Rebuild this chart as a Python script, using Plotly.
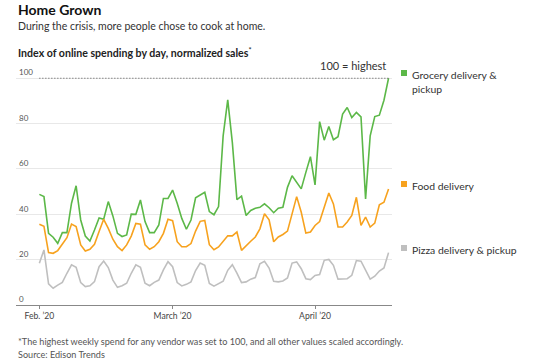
import pandas as pd
import plotly.graph_objects as go

dates = pd.date_range("2020-02-01", "2020-04-17", freq="D")

grocery = [48.8, 47.8, 31.6, 29.9, 27.2, 31.9, 31.9, 44.9, 52.6, 37.5,
           30.4, 28.2, 33.1, 38.4, 37.8, 45.6, 39.3, 31.6, 30.2, 30.9,
           40.1, 40.0, 46.3, 36.8, 31.9, 31.9, 35.3, 47.0, 47.0, 50.7,
           44.9, 38.2, 33.4, 37.5, 47.3, 48.4, 49.7, 41.2, 39.8, 43.4,
           74.6, 90.5, 71.7, 46.5, 48.0, 39.5, 41.7, 42.7, 43.1, 44.6,
           42.9, 40.7, 42.7, 43.1, 51.9, 57.0, 54.1, 51.2, 58.5, 65.4,
           53.0, 80.9, 72.7, 78.7, 72.9, 74.2, 84.2, 87.1, 82.7, 84.9,
           83.0, 46.8, 74.6, 83.1, 83.7, 90.3, 100.0]

food = [35.6, 34.7, 23.1, 22.8, 24.0, 26.9, 29.7, 35.7, 34.6, 26.5,
        23.8, 24.6, 26.8, 32.4, 37.8, 33.8, 29.0, 25.7, 24.0, 26.5,
        30.4, 36.0, 35.6, 26.5, 24.6, 25.7, 27.9, 31.6, 37.8, 37.2,
        27.9, 25.7, 25.7, 27.1, 32.6, 36.9, 37.3, 26.6, 24.4, 25.6,
        28.2, 30.5, 30.5, 32.2, 24.1, 25.9, 28.1, 30.0, 33.6, 40.2,
        37.6, 27.9, 30.0, 31.1, 32.6, 40.2, 47.8, 40.9, 31.7, 32.2,
        35.1, 36.8, 43.4, 49.4, 44.6, 34.4, 34.4, 36.6, 39.5, 47.5,
        35.1, 38.8, 34.4, 36.1, 44.2, 45.3, 51.2]

pizza = [18.4, 24.3, 9.3, 7.4, 8.8, 10.0, 14.0, 17.7, 16.6, 9.9,
         8.1, 8.5, 10.3, 16.9, 19.4, 16.5, 11.0, 7.8, 8.5, 9.6,
         14.0, 17.7, 16.6, 9.6, 8.5, 10.0, 11.0, 15.5, 19.1, 16.9,
         9.9, 8.4, 9.1, 10.2, 15.2, 18.5, 17.5, 9.5, 8.3, 9.5,
         10.5, 15.3, 17.8, 14.1, 9.9, 10.2, 11.4, 12.1, 18.2, 19.3,
         16.3, 10.5, 10.2, 10.6, 11.9, 18.5, 19.0, 16.0, 11.6, 11.2,
         13.0, 13.4, 19.7, 20.1, 17.5, 11.4, 11.4, 11.6, 13.1, 19.6,
         19.3, 15.3, 11.4, 12.7, 15.0, 16.3, 23.1]

series_names = ["Grocery delivery &<br>pickup", "Food delivery", "Pizza delivery & pickup"]
series_values = [grocery, food, pizza]
colors = ["#5cb848", "#f7a21e", "#bfbfbf"]

x_tick_vals = ["2020-02-01", "2020-03-01", "2020-04-01"]
x_tick_text = ["Feb. ’20", "March ’20", "April ’20"]
y_tick_vals = [0, 20, 40, 60, 80, 100]

W, H = 550, 363
L, R, T, B = 16, 158, 76, 58
PW, PH = W - L - R, H - T - B

def px(x):
    return (x - L) / PW

def py(y):
    return (H - B - y) / PH

fig = go.Figure()
for name, vals, col in zip(series_names, series_values, colors):
    fig.add_trace(go.Scatter(x=dates, y=vals, mode="lines", name=name,
                             line=dict(color=col, width=1.6), showlegend=False))

# dotted 100 line
fig.add_shape(type="line", xref="x", yref="y", x0=dates[0], x1=dates[-1], y0=100, y1=100,
              line=dict(color="#555555", width=1.2, dash="1px,2px"), layer="above")

font_family = "Lato, 'Noto Sans', sans-serif"
narrow = "'Liberation Sans Narrow', 'Arial Narrow', Lato, sans-serif"

fig.update_layout(
    width=W, height=H,
    margin=dict(l=L, r=R, t=T, b=B),
    plot_bgcolor="white", paper_bgcolor="white",
    font=dict(family=font_family, color="#333333"),
    xaxis=dict(
        range=["2020-01-26 22:00", "2020-04-17 18:00"],
        tickvals=x_tick_vals, ticktext=x_tick_text,
        showgrid=False, showline=True, linecolor="#888888", linewidth=1,
        ticks="outside", ticklen=3, tickcolor="#888888",
        tickfont=dict(size=8.6, color="#444444", family=narrow),
        zeroline=False,
    ),
    yaxis=dict(
        range=[0, 101],
        tickvals=y_tick_vals,
        showgrid=True, gridcolor="#e8e8e8", gridwidth=1,
        zeroline=False, showline=False,
        ticklabelposition="inside top",
        ticklabeloverflow="allow",
        tickfont=dict(size=8, color="#555555", family=narrow),
    ),
)

ann = []
ann.append(dict(text="<b>Home Grown</b>", x=px(16), y=py(9), xanchor="left", yanchor="middle",
                font=dict(size=14, color="#111111")))
ann.append(dict(text="During the crisis, more people chose to cook at home.", x=px(16), y=py(26),
                xanchor="left", yanchor="middle", font=dict(size=10.5, color="#333333")))
ann.append(dict(text="<b>Index of online spending by day, normalized sales</b><sup>*</sup>", x=px(16), y=py(52),
                xanchor="left", yanchor="middle", font=dict(size=10.6, color="#222222")))
ann.append(dict(text="100 = highest", x=px(388), y=py(66), xanchor="right", yanchor="middle",
                font=dict(size=11, color="#333333")))
ann.append(dict(text="*The highest weekly spend for any vendor was set to 100, and all other values scaled accordingly.",
                x=px(16), y=py(341), xanchor="left", yanchor="middle", font=dict(size=9.1, color="#555555")))
ann.append(dict(text="Source: Edison Trends", x=px(16), y=py(354), xanchor="left", yanchor="middle",
                font=dict(size=9.1, color="#555555")))

legend_y = [73, 184, 248]
for name, col, ly in zip(series_names, colors, legend_y):
    ann.append(dict(text=name, x=px(410), y=py(ly - 6.5), xanchor="left", yanchor="top", align="left",
                    font=dict(size=10.4, color="#333333")))
    fig.add_shape(type="rect", xref="paper", yref="paper",
                  x0=px(401), x1=px(407), y0=py(ly - 3), y1=py(ly + 3),
                  fillcolor=col, line=dict(width=0))

for a in ann:
    a.update(xref="paper", yref="paper", showarrow=False)
fig.update_layout(annotations=ann)

fig.write_html("out.html", config={"displayModeBar": False},
               post_script="document.body.style.margin='0';")
